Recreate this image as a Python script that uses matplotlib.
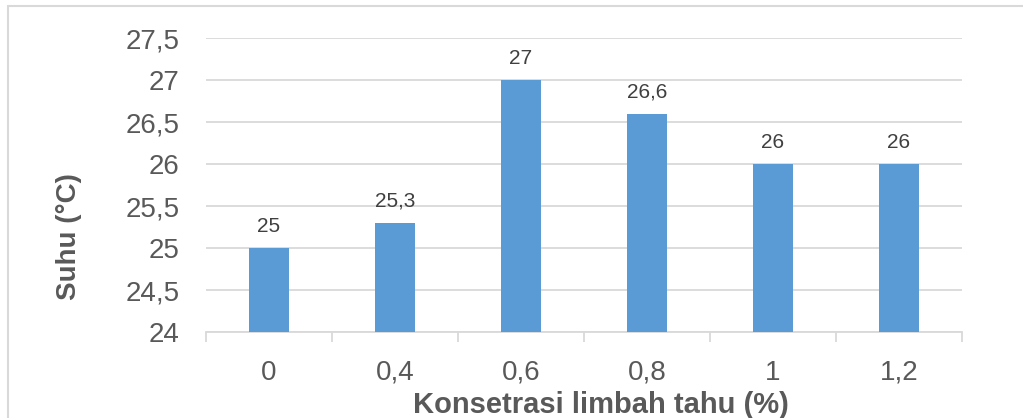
import matplotlib
matplotlib.use("Agg")
import matplotlib.pyplot as plt
from matplotlib.patches import Rectangle
import numpy as np

plt.rcParams['font.family'] = ['Liberation Sans', 'DejaVu Sans']

# Data
categories = ["0", "0,4", "0,6", "0,8", "1", "1,2"]
values = [25.0, 25.3, 27.0, 26.6, 26.0, 26.0]
value_labels = ["25", "25,3", "27", "26,6", "26", "26"]
y_ticks = [24, 24.5, 25, 25.5, 26, 26.5, 27, 27.5]
y_tick_labels = ["24", "24,5", "25", "25,5", "26", "26,5", "27", "27,5"]

W, H = 1023, 418
fig = plt.figure(figsize=(W / 100, H / 100), dpi=100)
fig.patch.set_facecolor("white")

ax = fig.add_axes([206 / W, 1 - 332 / H, (962 - 206) / W, (332 - 38) / H])

bar_color = "#5B9BD5"
grid_color = "#D9D9D9"
tick_color = "#595959"
label_color = "#404040"

x = np.arange(len(categories))
ax.bar(x, values, width=0.31, color=bar_color, zorder=3, bottom=0)

ax.set_xlim(-0.5, len(categories) - 0.5)
ax.set_ylim(24, 27.5)

ax.set_yticks(y_ticks)
ax.set_yticklabels(y_tick_labels)
ax.yaxis.grid(True, color=grid_color, linewidth=1.3, zorder=0)
ax.set_axisbelow(True)

ax.set_xticks(x)
ax.set_xticklabels(categories)
ax.set_xticks(np.arange(len(categories) + 1) - 0.5, minor=True)

ax.tick_params(axis="y", length=0, pad=19, labelsize=20, labelcolor=tick_color)
ax.tick_params(axis="x", which="major", length=0, pad=20, labelsize=20, labelcolor=tick_color)
ax.tick_params(axis="x", which="minor", length=7, width=1.3, color=grid_color, direction="out")

for side in ["top", "right", "left"]:
    ax.spines[side].set_visible(False)
ax.spines["bottom"].set_color(grid_color)
ax.spines["bottom"].set_linewidth(1.3)

for xi, v, lab in zip(x, values, value_labels):
    ax.annotate(lab, (xi, v), xytext=(0, 11.5), textcoords="offset points",
                ha="center", va="baseline", fontsize=15, color=label_color)

# Axis titles
fig.text(69 / W, 1 - 237 / H, "Suhu (°C)", rotation=90, ha="center", va="center",
         fontsize=20, fontweight="bold", color=tick_color)
fig.text(601 / W, 1 - 413 / H, "Konsetrasi limbah tahu (%)", ha="center", va="baseline",
         fontsize=21, fontweight="bold", color=tick_color)

# Chart frame
fig.patches.append(Rectangle((8 / W, -0.1), 1.2, (1 - 6 / H) + 0.1,
                             transform=fig.transFigure, fill=False,
                             edgecolor=grid_color, linewidth=1.5))

fig.savefig("out.png", dpi=100)
